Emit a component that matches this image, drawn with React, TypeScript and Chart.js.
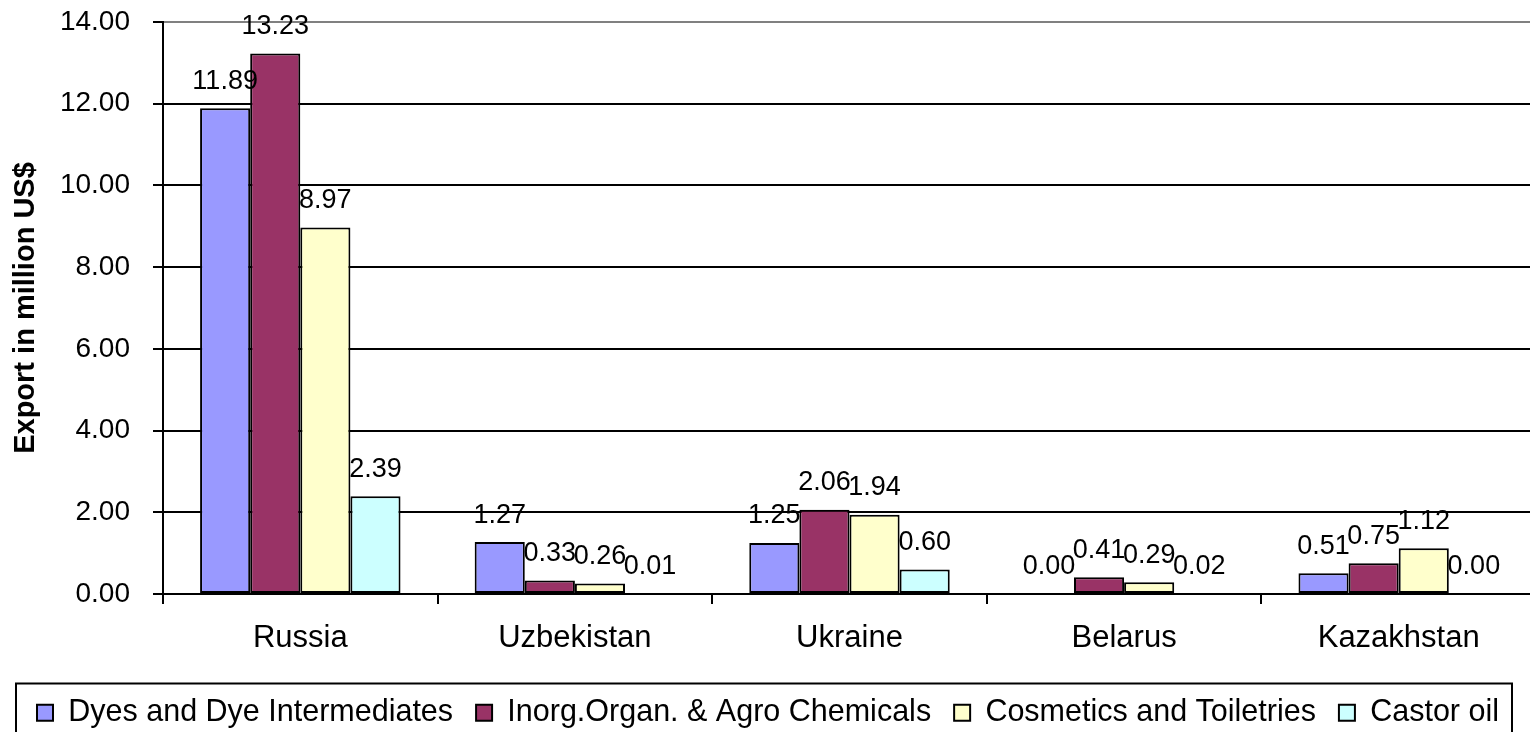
import React, { useEffect, useRef } from "react";
import { Chart, registerables } from "chart.js";

Chart.register(...registerables);

const categories = ["Russia", "Uzbekistan", "Ukraine", "Belarus", "Kazakhstan"];
const seriesNames = [
  "Dyes and Dye Intermediates",
  "Inorg.Organ. & Agro Chemicals",
  "Cosmetics and Toiletries",
  "Castor oil",
];
const dyesValues = [11.89, 1.27, 1.25, 0.0, 0.51];
const inorgValues = [13.23, 0.33, 2.06, 0.41, 0.75];
const cosmeticsValues = [8.97, 0.26, 1.94, 0.29, 1.12];
const castorValues = [2.39, 0.01, 0.6, 0.02, 0.0];
const seriesColors = ["#9999FF", "#993366", "#FFFFCC", "#CCFFFF"];
const yMin = 0;
const yMax = 14;
const yStep = 2;
const yTitle = "Export in million US$";

const FONT = "'Liberation Sans', Arial, sans-serif";

const dataLabelPlugin = {
  id: "dataLabels",
  afterDatasetsDraw(chart: any) {
    const ctx = chart.ctx;
    ctx.save();
    ctx.font = `27px ${FONT}`;
    ctx.fillStyle = "#000";
    ctx.textAlign = "center";
    ctx.textBaseline = "middle";
    chart.data.datasets.forEach((ds: any, di: number) => {
      const meta = chart.getDatasetMeta(di);
      meta.data.forEach((bar: any, i: number) => {
        const v = ds.data[i] as number;
        ctx.fillText(v.toFixed(2), bar.x, bar.y - 27);
      });
    });
    ctx.restore();
  },
};

const legendBoxPlugin = {
  id: "legendBox",
  afterDraw(chart: any) {
    const lg = chart.legend;
    if (!lg) return;
    const ctx = chart.ctx;
    ctx.save();
    ctx.strokeStyle = "#000";
    ctx.lineWidth = 2;
    ctx.strokeRect(lg.left + 16, lg.top + 9, lg.width - 40, lg.height + 20);
    ctx.restore();
  },
};

export default function App() {
  const canvasRef = useRef<HTMLCanvasElement | null>(null);

  useEffect(() => {
    if (!canvasRef.current) return;
    const series = [dyesValues, inorgValues, cosmeticsValues, castorValues];
    const chart = new Chart(canvasRef.current, {
      type: "bar",
      data: {
        labels: categories,
        datasets: series.map((vals, i) => ({
          label: seriesNames[i],
          data: vals,
          backgroundColor: seriesColors[i],
          borderColor: "#000",
          borderWidth: 2,
          borderSkipped: false,
          categoryPercentage: 0.73,
          barPercentage: 1,
        })),
      },
      options: {
        responsive: false,
        animation: false,
        devicePixelRatio: 1,
        layout: { padding: { top: 22, left: 0, right: 0, bottom: 0 } },
        plugins: {
          tooltip: { enabled: false },
          legend: {
            position: "bottom",
            labels: {
              color: "#000",
              font: { family: FONT, size: 30.5 },
              boxWidth: 16,
              boxHeight: 16,
              padding: 23,
            },
          },
        },
        scales: {
          x: {
            afterFit(scale: any) {
              scale.height = 80.5;
            },
            grid: {
              offset: true,
              drawOnChartArea: false,
              drawTicks: true,
              tickLength: 10,
              color: "#000",
              lineWidth: 2,
            },
            border: { display: true, color: "#000", width: 2 },
            ticks: {
              color: "#000",
              font: { family: FONT, size: 31 },
              padding: 16,
              maxRotation: 0,
            },
          },
          y: {
            min: yMin,
            max: yMax,
            afterFit(scale: any) {
              scale.width = 163;
              scale.paddingTop = 17;
              scale.paddingBottom = 17;
            },
            ticks: {
              stepSize: yStep,
              color: "#000",
              font: { family: FONT, size: 28 },
              padding: 23,
              callback: (v: any) => Number(v).toFixed(2),
            },
            grid: {
              color: (c: any) => (c.tick && c.tick.value === yMax ? "#808080" : "#000"),
              tickColor: "#000",
              lineWidth: 2,
              drawTicks: true,
              tickLength: 10,
            },
            border: { display: true, color: "#000", width: 2 },
            title: {
              display: true,
              text: yTitle,
              color: "#000",
              font: { family: FONT, size: 29, weight: "bold" },
              padding: { top: 9, bottom: 0 },
            },
          },
        },
      },
      plugins: [dataLabelPlugin, legendBoxPlugin],
    });
    return () => chart.destroy();
  }, []);

  return (
    <div
      style={{
        position: "fixed",
        left: 0,
        top: 0,
        width: 1530,
        height: 732,
        overflow: "hidden",
        background: "#fff",
      }}
    >
      <canvas ref={canvasRef} width={1536} height={738} style={{ width: 1536, height: 738, display: "block" }} />
    </div>
  );
}
